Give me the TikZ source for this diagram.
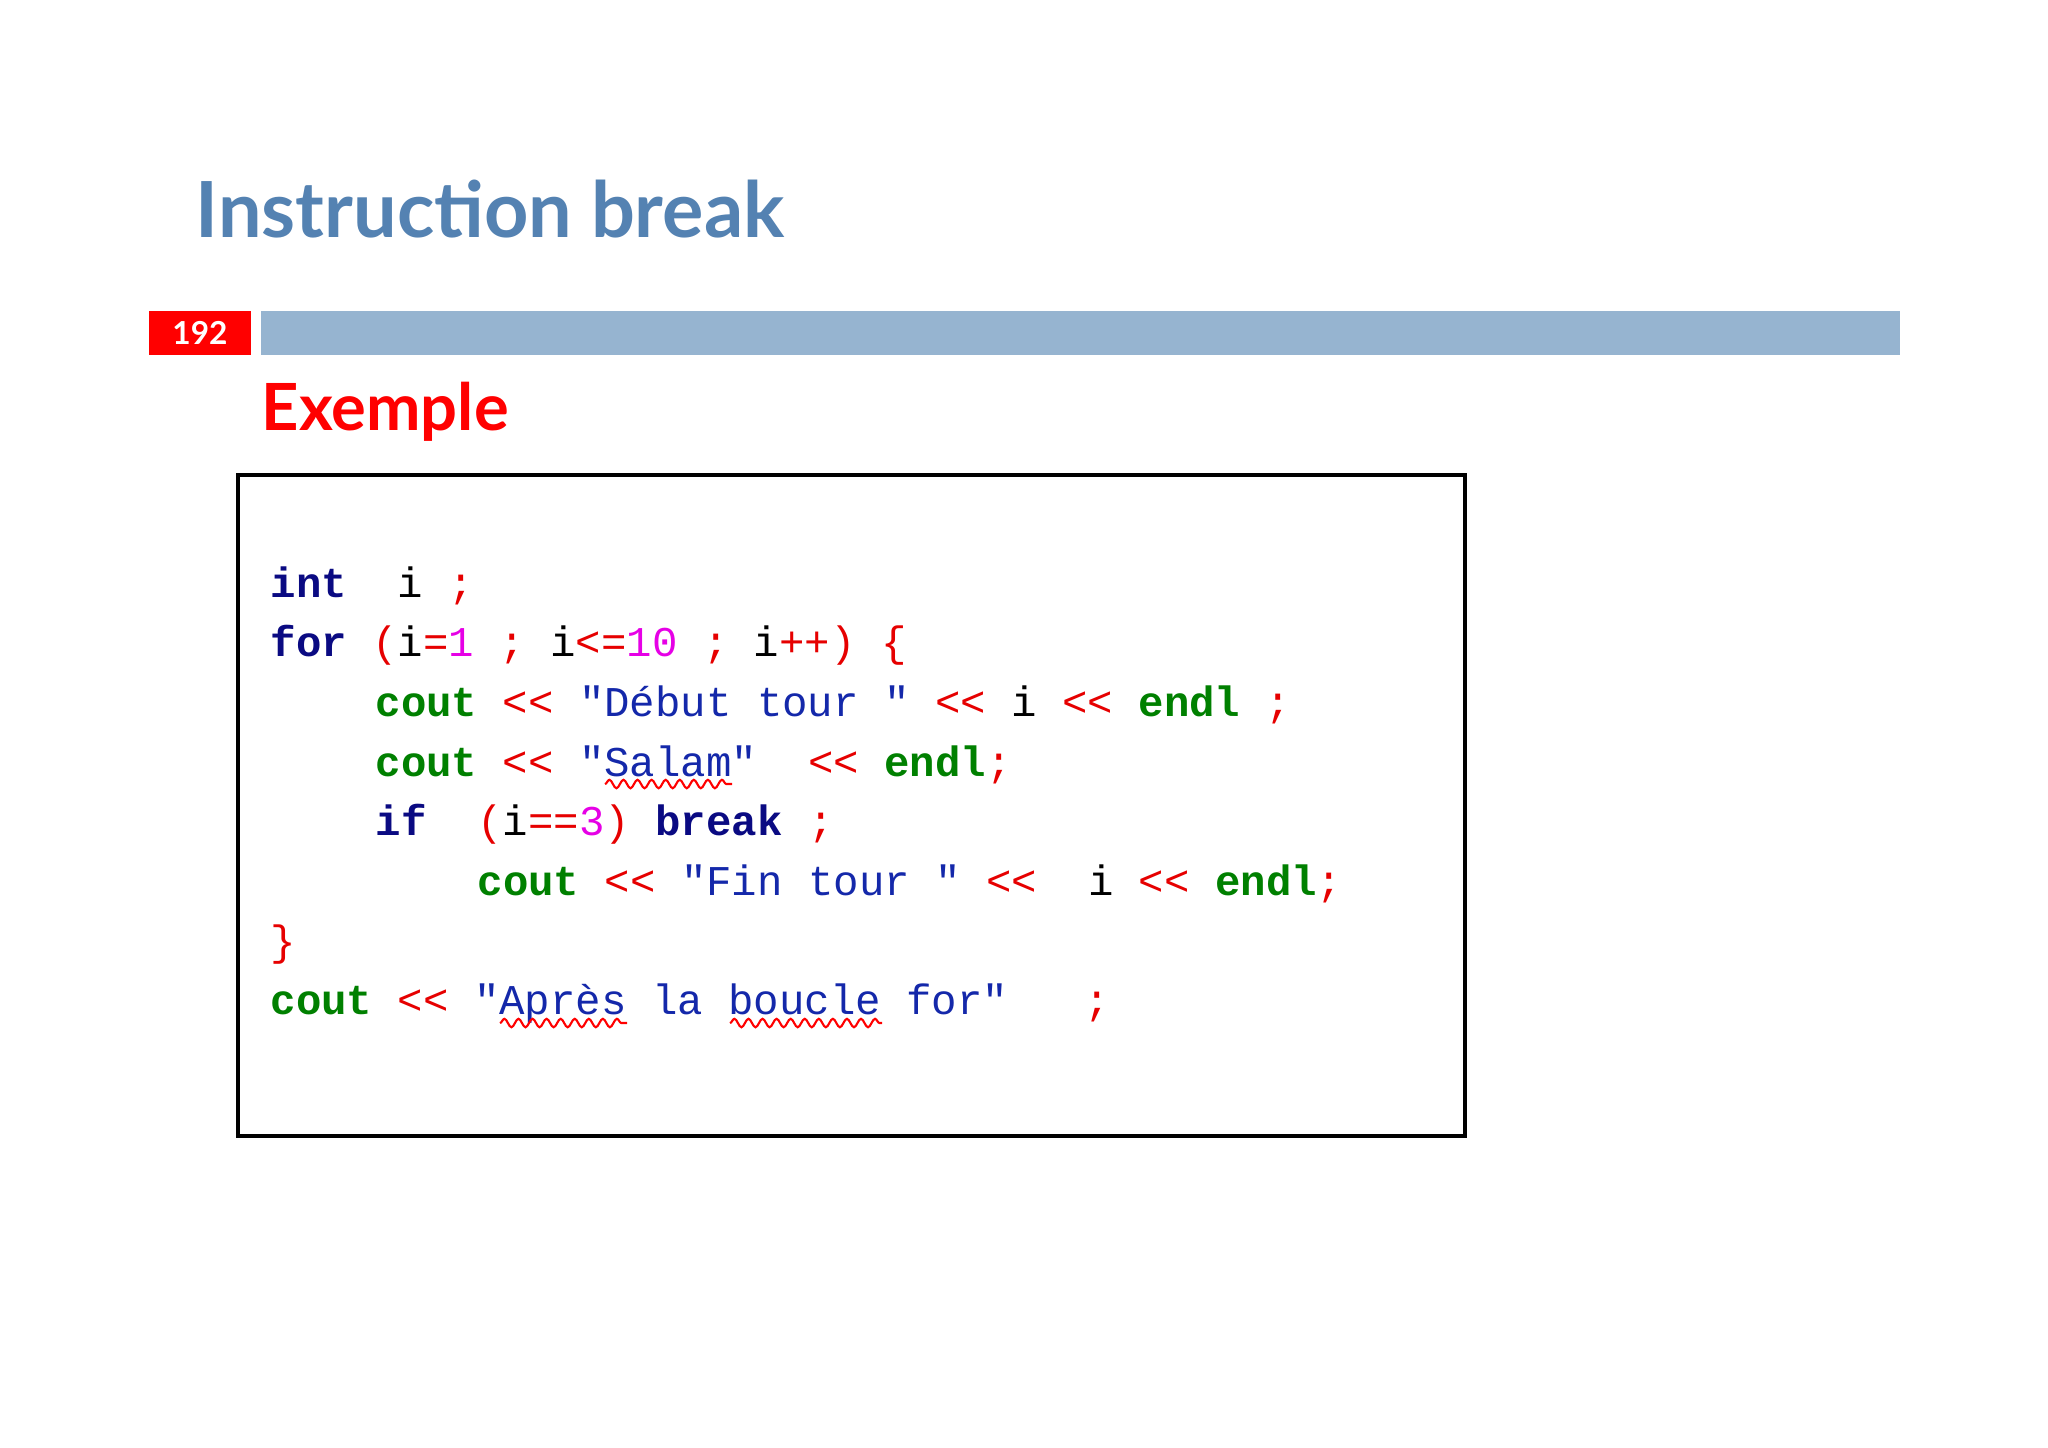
\documentclass[tikz,border=0pt]{standalone}
\usepackage{fontspec}
\setmainfont{Lato}
\setmonofont{Liberation Mono}
\usetikzlibrary{decorations.pathmorphing}
\definecolor{titleblue}{RGB}{84,130,178}
\definecolor{barblue}{RGB}{150,180,208}
\definecolor{kw}{RGB}{10,10,130}
\definecolor{gr}{RGB}{0,128,0}
\definecolor{st}{RGB}{20,40,170}
\definecolor{rd}{RGB}{230,0,0}
\definecolor{mg}{RGB}{230,0,230}
\newcommand{\K}[1]{\textcolor{kw}{\bfseries #1}}
\newcommand{\G}[1]{\textcolor{gr}{\bfseries #1}}
\newcommand{\Sg}[1]{\textcolor{st}{#1}}
\newcommand{\R}[1]{\textcolor{rd}{#1}}
\newcommand{\M}[1]{\textcolor{mg}{#1}}
\begin{document}
\begin{tikzpicture}[x=0.01cm,y=-0.01cm,
  code/.style={anchor=base west,inner sep=0pt,font=\ttfamily\fontsize{12.05}{14}\selectfont},
  squig/.style={draw=red,line width=0.6pt,decorate,decoration={snake,amplitude=1.2pt,segment length=4pt}}]
\useasboundingbox (0,0) rectangle (2048,1447);
\fill[white] (0,0) rectangle (2048,1447);
\node[anchor=base west,inner sep=0pt,text=titleblue,font=\bfseries\fontsize{22}{26}\selectfont] (title) at (195,237) {Instruction break};
\node[fill=red,minimum width=1.02cm,minimum height=0.44cm,inner sep=0pt,text=white,font=\bfseries\fontsize{9}{10}\selectfont] (num) at (200,333) {192};
\fill[barblue] (261,311) rectangle (1900,355);
\node[anchor=base west,inner sep=0pt,text=red,font=\bfseries\fontsize{18.5}{22}\selectfont] (ex) at (261,430) {Exemple};
\draw[black,line width=1pt] (238,475) rectangle (1465,1136);
\node[code] (l1) at (270,597) {\K{int}~~i~\R{;}};
\node[code] (l2) at (270,656.7) {\K{for}~\R{(}i\R{=}\M{1}~\R{;}~i\R{<=}\M{10}~\R{;}~i\R{++)}~\R{\{}};
\node[code] (l3) at (375,716.4) {\G{cout}~\R{<<}~\Sg{"Début~tour~"}~\R{<<}~i~\R{<<}~\G{endl}~\R{;}};
\node[code] (l4) at (375,776.1) {\G{cout}~\R{<<}~\Sg{"Salam"}~~\R{<<}~\G{endl}\R{;}};
\node[code] (l5) at (375,835.8) {\K{if}~~\R{(}i\R{==}\M{3}\R{)}~\K{break}~\R{;}};
\node[code] (l6) at (477,895.5) {\G{cout}~\R{<<}~\Sg{"Fin~tour~"}~\R{<<}~~i~\R{<<}~\G{endl}\R{;}};
\node[code] (l7) at (270,955.2) {\R{\}}};
\node[code] (l8) at (270,1014.9) {\G{cout}~\R{<<}~\Sg{"Après~la~boucle~for"}~~~\R{;}};
\draw[squig] (605,784) -- (732,784);
\draw[squig] (500,1023) -- (627,1023);
\draw[squig] (730,1023) -- (882,1023);
\end{tikzpicture}
\end{document}
